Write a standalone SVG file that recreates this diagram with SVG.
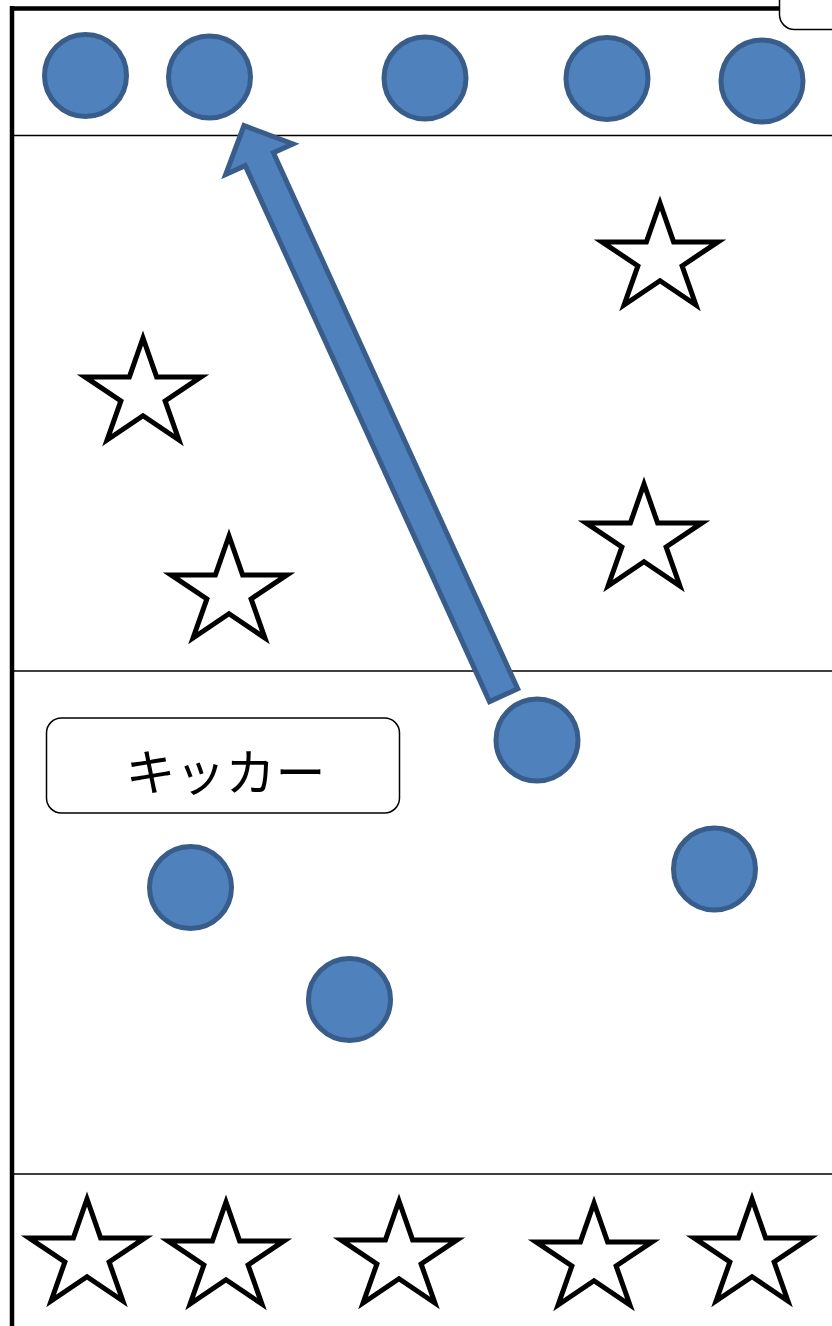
<svg xmlns="http://www.w3.org/2000/svg" xmlns:xlink="http://www.w3.org/1999/xlink" width="832" height="1326" viewBox="0 0 832 1326">
  <style>
    .player { fill: #4F81BD; stroke: #385D8A; stroke-width: 5; }
    .star { fill: #FFFFFF; stroke: #000000; stroke-width: 5; stroke-linejoin: miter; stroke-miterlimit: 10; }
    .thin { stroke: #000000; stroke-width: 1.5; fill: none; }
    .border { stroke: #000000; stroke-width: 4.5; fill: none; }
    .label { fill: #FFFFFF; stroke: #000000; stroke-width: 1.5; }
    .labeltext { font-family: "Noto Sans CJK JP", "Noto Sans", sans-serif; font-size: 50px; fill: #000000; }
  </style>
  <defs>
    <path id="star" d="M0,0 L13.6,38.9 L58,38.9 L22.1,62.9 L35.9,102 L0,77.7 L-35.9,102 L-22.1,62.9 L-58,38.9 L-13.6,38.9 Z"/>
  </defs>
  <rect x="0" y="0" width="832" height="1326" fill="#FFFFFF"/>

  <g id="field">
    <line class="border" x1="12" y1="6" x2="12" y2="1326"/>
    <line class="border" x1="10" y1="8.5" x2="780" y2="8.5"/>
    <line class="thin" x1="12" y1="135.5" x2="832" y2="135.5"/>
    <line class="thin" x1="12" y1="671" x2="832" y2="671"/>
    <line class="thin" x1="12" y1="1174" x2="832" y2="1174"/>
    <rect class="label" x="779.5" y="-25" width="90" height="54.5" rx="15" ry="15"/>
  </g>

  <g id="connectors">
    <path class="player" stroke-width="4.5" stroke-linejoin="miter" transform="translate(503.6,695.2) rotate(-24.5)" d="M-15.5,0 L15.5,0 L15.5,-589 L37,-589 L0,-626 L-37,-589 L-15.5,-589 Z"/>
  </g>

  <g id="top-players">
    <circle id="p1" class="player" cx="85.5" cy="75.5" r="41"/>
    <circle id="p2" class="player" cx="209.5" cy="77" r="41"/>
    <circle id="p3" class="player" cx="425" cy="78" r="41"/>
    <circle id="p4" class="player" cx="607" cy="78.5" r="41"/>
    <circle id="p5" class="player" cx="762" cy="81" r="41"/>
  </g>

  <g id="stars-mid">
    <use id="s1" xlink:href="#star" class="star" transform="translate(660,203)"/>
    <use id="s2" xlink:href="#star" class="star" transform="translate(143,338)"/>
    <use id="s3" xlink:href="#star" class="star" transform="translate(229,536)"/>
    <use id="s4" xlink:href="#star" class="star" transform="translate(644,484)"/>
  </g>

  <g id="kicker-label">
    <rect class="label" x="46.5" y="718" width="353" height="95" rx="15" ry="15"/>
    <text class="labeltext" x="225.5" y="791" text-anchor="middle">キッカー</text>
  </g>

  <g id="mid-players">
    <circle id="k" class="player" cx="537" cy="740" r="41"/>
    <circle id="m1" class="player" cx="714.5" cy="869" r="41"/>
    <circle id="m2" class="player" cx="190.5" cy="887.5" r="41"/>
    <circle id="m3" class="player" cx="349.5" cy="999.5" r="41"/>
  </g>

  <g id="stars-bottom">
    <use id="b1" xlink:href="#star" class="star" transform="translate(87,1199)"/>
    <use id="b2" xlink:href="#star" class="star" transform="translate(226,1202)"/>
    <use id="b3" xlink:href="#star" class="star" transform="translate(399,1201)"/>
    <use id="b4" xlink:href="#star" class="star" transform="translate(594,1203)"/>
    <use id="b5" xlink:href="#star" class="star" transform="translate(752,1199)"/>
  </g>
</svg>
